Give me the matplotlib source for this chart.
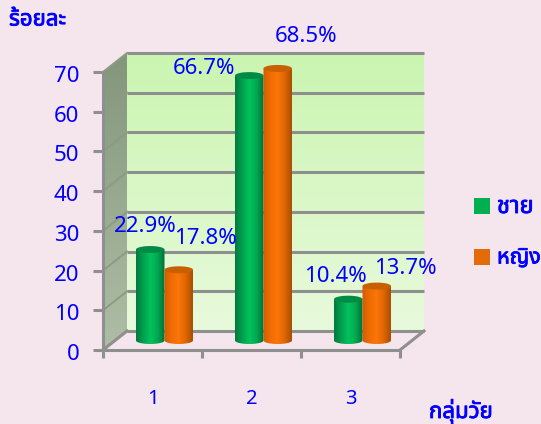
import matplotlib
matplotlib.use('Agg')
import matplotlib.pyplot as plt
import matplotlib.patheffects as pe
import numpy as np
from matplotlib.patches import Polygon, Rectangle
from matplotlib.colors import LinearSegmentedColormap
from matplotlib.transforms import ScaledTranslation

plt.rcParams['font.family'] = ['Noto Sans', 'Noto Sans Thai']

# ข้อมูล
groups = ['1', '2', '3']
male = [22.9, 66.7, 10.4]
female = [17.8, 68.5, 13.7]
series_names = ['ชาย', 'หญิง']
y_ticks = [0, 10, 20, 30, 40, 50, 60, 70]
y_title = 'ร้อยละ'
x_title = 'กลุ่มวัย'

BG = '#F5E6EE'
BLUE = '#0000FF'
GREY = '#8F8F8F'
W, H = 541, 424
DX, DY = 0.2424, 4.79   # ความลึก 3 มิติ (หน่วยข้อมูล)
BAR_W = 0.288
ELL = 0.88              # ครึ่งความสูงวงรี (หน่วยข้อมูล)

fig = plt.figure(figsize=(W / 100, H / 100), dpi=100, facecolor=BG)
ax = fig.add_axes([103 / W, (H - 350) / H, 297 / W, 278 / H])
ax.patch.set_alpha(0)


def gradient(colors, extent, vertical, clip, z):
    cmap = LinearSegmentedColormap.from_list('g', colors)
    t = np.linspace(0, 1, 128)
    arr = t[:, None] if vertical else t[None, :]
    im = ax.imshow(arr, cmap=cmap, extent=extent, origin='lower', aspect='auto',
                   zorder=z, interpolation='bilinear')
    im.set_clip_box(fig.bbox)
    im.set_clip_path(Polygon(clip, closed=True, transform=ax.transData))


# ผนังหลังและผนังซ้าย
back = [(DX, DY), (3 + DX, DY), (3 + DX, 70 + DY), (DX, 70 + DY)]
gradient(['#E8FADC', '#CAF5B0'], (DX, 3 + DX, DY, 70 + DY), True, back, 1)
left = [(0, 0), (DX, DY), (DX, 70 + DY), (0, 70)]
gradient(['#AEBEA6', '#83967A'], (0, DX, 0, 70 + DY), True, left, 1)

# เส้นกริด
for v in y_ticks:
    ax.plot([DX, 3 + DX], [v + DY, v + DY], color=GREY, lw=2.2, zorder=2,
            clip_on=False, solid_capstyle='butt')
    ax.plot([0, DX], [v, v + DY], color='#8C9A86', lw=1.4, zorder=2, clip_on=False)
ax.plot([3, 3 + DX], [0, DY], color=GREY, lw=2.2, zorder=2, clip_on=False)
ax.plot([0, DX], [0, DY], color=GREY, lw=2.2, zorder=2, clip_on=False)


def cylinder(cx, value, colors, top_color, z):
    x0, x1 = cx - BAR_W / 2, cx + BAR_W / 2
    base = DY / 2
    ang = np.linspace(0, np.pi, 40)
    xs = cx + BAR_W / 2 * np.cos(ang)
    # ตัวทรงกระบอก
    body = [(x0, base + value), (x1, base + value)]
    body += [(x, base - ELL * np.sin(a)) for x, a in zip(xs, ang)]
    gradient(colors, (x0, x1, base - ELL, base + value), False, body, z)
    # ฝาบน
    theta = np.linspace(0, 2 * np.pi, 60)
    ax.fill(cx + BAR_W / 2 * np.cos(theta), base + value + ELL * np.sin(theta),
            color=top_color, zorder=z + 0.1, clip_on=False, lw=0)


green_grad = ['#007A3E', '#00A04E', '#00C25C', '#00A850', '#006F38']
orange_grad = ['#CF5C00', '#F06C04', '#FA7608', '#E06604', '#A84E00']

for i in range(len(groups)):
    cx = i + 0.5 + DX / 2
    cylinder(cx - BAR_W / 2, male[i], green_grad, '#008A45', 3)
    cylinder(cx + BAR_W / 2, female[i], orange_grad, '#C96000', 4)

# แกน
ax.set_xlim(0, 3)
ax.set_ylim(0, 70)
for s in ['top', 'right']:
    ax.spines[s].set_visible(False)
for s in ['left', 'bottom']:
    ax.spines[s].set_color(GREY)
    ax.spines[s].set_linewidth(2.2)
ax.set_yticks(y_ticks)
ax.tick_params(axis='y', colors=GREY, labelcolor=BLUE, labelsize=16, length=7, width=2.2, pad=10)
ax.set_xticks([0, 1, 2, 3])
ax.set_xticklabels([])
ax.set_xticks([0.5, 1.5, 2.5], labels=groups, minor=True)
ax.tick_params(axis='x', which='major', colors=GREY, length=6, width=2.2)
ax.tick_params(axis='x', which='minor', length=0, labelcolor=BLUE, labelsize=14.5, pad=28)

# ขยับตัวเลขแกน y ลงเล็กน้อย
shift = ScaledTranslation(0, -2 / 100, fig.dpi_scale_trans)
for lbl in ax.get_yticklabels():
    lbl.set_transform(lbl.get_transform() + shift)


def px_text(x, y, s, size, ha='center', thick=False):
    t = fig.text(x / W, 1 - y / H, s, color=BLUE, fontsize=size, ha=ha, va='center')
    if thick:
        t.set_path_effects([pe.withStroke(linewidth=0.6, foreground=BLUE)])


# ป้ายค่า
male_pos = [(145, 226), (204, 69), (335, 277)]
female_pos = [(205, 239), (306, 37), (405, 268)]
for v, p in zip(male, male_pos):
    px_text(p[0], p[1], f'{v}%', 16)
for v, p in zip(female, female_pos):
    px_text(p[0], p[1], f'{v}%', 16)

# ชื่อแกน
px_text(9, 20, y_title, 16, ha='left', thick=True)
px_text(429, 411, x_title, 16, ha='left', thick=True)

# คำอธิบาย
for name, col, y, fs in zip(series_names, ['#00B050', '#E36C09'], [206, 257], [17, 15.5]):
    fig.add_artist(Rectangle((474 / W, 1 - (y + 8) / H), 16 / W, 16 / H, color=col,
                             transform=fig.transFigure, lw=0))
    px_text(497, y + 1, name, fs, ha='left', thick=True)

fig.savefig('out.png', facecolor=BG)
